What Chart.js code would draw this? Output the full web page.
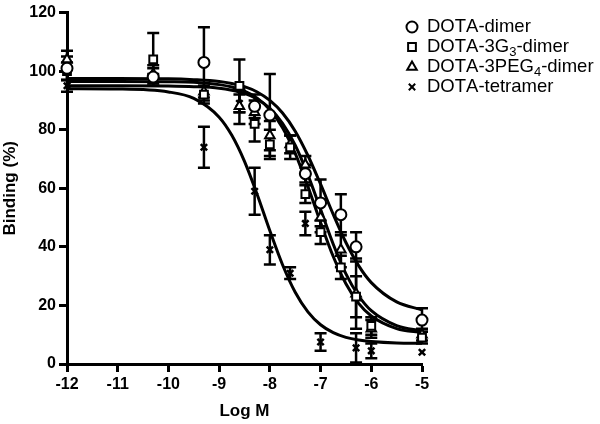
<!DOCTYPE html>
<html>
<head>
<meta charset="utf-8">
<script src="https://cdn.jsdelivr.net/npm/chart.js@4.4.0/dist/chart.umd.min.js"></script>
<style>
  html, body { margin: 0; background: #fff; }
  #wrap { width: 600px; height: 424px; }
</style>
</head>
<body>
<div id="wrap"><canvas id="bindingChart"></canvas></div>
<script>
// Competitive binding data (log molar concentration vs % binding)
const seriesNames = ['DOTA-dimer', 'DOTA-3G₃-dimer', 'DOTA-3PEG₄-dimer', 'DOTA-tetramer'];
const markerStyles = ['circle', 'rect', 'triangle', 'crossRot'];

const logConc = [-12, -10.3, -9.3, -8.6, -8.3, -8, -7.6, -7.3, -7, -6.6, -6.3, -6, -5];

const dimerMean   = [101, 98, 103, null, 88, 85, null, 65, 55, 51, 40, null, 15];
const dimerErr    = [4, 3, 12, null, 4, 14, null, 3, 8, 7, 5, null, 4];
const g3Mean      = [100, 104, 92, 95, 82, 75, 74, 58, 45, 33, 23, 13, 9];
const g3Err       = [3, 9, 3, 9, 6, 5, 4, 3, 4, 4, 7, 3, 2];
const peg4Mean    = [104, 99, 93, 88, 86, 78, 75, 68, 50, 39, 24, 12, 10];
const peg4Err     = [3, 3, 3, 6, 4, 5, 3, 3, 5, 6, 12, 3, 2];
const tetraMean   = [95, 97, 74, 89, 59, 39, 31, 48, 7.5, null, 5.5, 4.5, 4];
const tetraErr    = [2, 2, 7, 3, 8, 5, 2, 4, 3, null, 5, 2.5, 0];

// fitted curves
const curveX      = [-12, -11, -10, -9.5, -9, -8.75, -8.5, -8.25, -8, -7.75, -7.5, -7.25, -7, -6.75, -6.5, -6.25, -6, -5.5, -5];
const dimerFit    = [97.5, 97.5, 97.4, 97.1, 96.5, 95.8, 94.7, 92.9, 90.0, 85.7, 79.5, 71.2, 61.4, 51.1, 41.5, 33.6, 27.8, 21.2, 18.5];
const g3Fit       = [96.5, 96.5, 96.4, 96.2, 95.4, 94.6, 93.2, 90.8, 86.8, 80.7, 71.9, 60.6, 48.3, 36.7, 27.4, 20.7, 16.4, 12.1, 10.7];
const peg4Fit     = [95, 95, 94.9, 94.7, 94.2, 93.5, 92.4, 90.5, 87.3, 82.2, 74.7, 64.6, 52.8, 40.9, 30.8, 23.3, 18.2, 13.1, 11.3];
const tetraFit    = [94, 93.9, 92.9, 90.7, 84.3, 78.1, 69.2, 57.9, 45.5, 33.9, 24.5, 17.8, 13.4, 10.7, 9.1, 8.2, 7.7, 7.2, 7.1];

const xTicks = [-12, -11, -10, -9, -8, -7, -6, -5];
const yTicks = [0, 20, 40, 60, 80, 100, 120];

const means = [dimerMean, g3Mean, peg4Mean, tetraMean];
const errs = [dimerErr, g3Err, peg4Err, tetraErr];
const fits = [dimerFit, g3Fit, peg4Fit, tetraFit];

const toPoints = (xs, ys) => xs.map((x, i) => ys[i] == null ? null : { x: x, y: ys[i] }).filter(p => p);

const datasets = [];
means.forEach((m, i) => {
    datasets.push({
        label: seriesNames[i],
        data: toPoints(logConc, m),
        pointStyle: markerStyles[i],
        pointRadius: markerStyles[i] === 'crossRot' ? 4.5 : 5.5,
        pointBorderWidth: markerStyles[i] === 'crossRot' ? 2.5 : 2,
        pointBackgroundColor: '#fff',
        pointBorderColor: '#000',
        showLine: false,
        clip: false,
        order: 0
    });
});
fits.forEach((f, i) => {
    datasets.push({
        label: seriesNames[i] + ' fit',
        data: toPoints(curveX, f),
        showLine: true,
        borderColor: '#000',
        borderWidth: 3,
        pointRadius: 0,
        cubicInterpolationMode: 'monotone',
        order: 1
    });
});

// vertical error bars with caps, drawn under the markers
const errorBars = {
    id: 'errorBars',
    beforeDatasetsDraw(chart) {
        const { ctx, scales: { x, y } } = chart;
        ctx.save();
        ctx.strokeStyle = '#000';
        ctx.lineWidth = 2.5;
        means.forEach((m, s) => {
            logConc.forEach((c, i) => {
                if (m[i] == null || !errs[s][i]) return;
                const px = x.getPixelForValue(c);
                const top = y.getPixelForValue(m[i] + errs[s][i]);
                const bot = y.getPixelForValue(m[i] - errs[s][i]);
                ctx.beginPath();
                ctx.moveTo(px, top); ctx.lineTo(px, bot);
                ctx.moveTo(px - 6, top); ctx.lineTo(px + 6, top);
                ctx.moveTo(px - 6, bot); ctx.lineTo(px + 6, bot);
                ctx.stroke();
            });
        });
        ctx.restore();
    }
};

// legend at top right, with real subscripts
const sideLegend = {
    id: 'sideLegend',
    afterDraw(chart) {
        const ctx = chart.ctx;
        const font = '18.5px "Liberation Sans", Arial, sans-serif';
        const subFont = '13px "Liberation Sans", Arial, sans-serif';
        ctx.save();
        seriesNames.forEach((name, i) => {
            const yy = 27 + i * 20;
            const st = markerStyles[i];
            ctx.fillStyle = '#fff';
            ctx.strokeStyle = '#000';
            Chart.helpers.drawPoint(ctx, {
                pointStyle: st,
                radius: st === 'crossRot' ? 4.5 : 5.5,
                borderWidth: st === 'crossRot' ? 2.5 : 2,
                rotation: 0
            }, 412, yy);
            ctx.fillStyle = '#000';
            ctx.textBaseline = 'middle';
            let tx = 427;
            for (const ch of name) {
                const code = ch.charCodeAt(0);
                if (code >= 0x2080 && code <= 0x2089) {
                    ctx.font = subFont;
                    const d = String(code - 0x2080);
                    ctx.fillText(d, tx, yy + 5);
                    tx += ctx.measureText(d).width;
                } else {
                    ctx.font = font;
                    ctx.fillText(ch, tx, yy);
                    tx += ctx.measureText(ch).width;
                }
            }
        });
        ctx.restore();
    }
};

const tickFont = { family: '"Liberation Sans", Arial, sans-serif', size: 16, weight: 'bold' };
const titleFont = { family: '"Liberation Sans", Arial, sans-serif', size: 17, weight: 'bold' };

const bindingCtx = document.getElementById('bindingChart').getContext('2d');
const bindingChart = new Chart(bindingCtx, {
    type: 'scatter',
    data: { datasets: datasets },
    options: {
        responsive: true,
        maintainAspectRatio: false,
        animation: false,
        layout: { padding: { left: 0, right: 178, top: 0, bottom: 0 } },
        plugins: {
            legend: { display: false },
            tooltip: { enabled: false }
        },
        scales: {
            x: {
                type: 'linear',
                min: -12,
                max: -5,
                afterBuildTicks: (scale) => { scale.ticks = xTicks.map(v => ({ value: v })); },
                afterFit: (scale) => { scale.height = 60; },
                ticks: { color: '#000', font: tickFont, padding: 3 },
                grid: { drawOnChartArea: false, drawTicks: true, tickLength: 8, tickWidth: 3, tickColor: '#000' },
                border: { display: true, color: '#000', width: 3 },
                title: { display: true, text: 'Log M', color: '#000', font: titleFont, padding: { top: 4, bottom: 2 } }
            },
            y: {
                min: 0,
                max: 120,
                afterBuildTicks: (scale) => { scale.ticks = yTicks.map(v => ({ value: v })); },
                afterFit: (scale) => { scale.width = 67; },
                ticks: { color: '#000', font: tickFont, padding: 3 },
                grid: { drawOnChartArea: false, drawTicks: true, tickLength: 8, tickWidth: 3, tickColor: '#000' },
                border: { display: true, color: '#000', width: 3 },
                title: { display: true, text: 'Binding (%)', color: '#000', font: titleFont, padding: { top: 0, bottom: 2 } }
            }
        }
    },
    plugins: [errorBars, sideLegend]
});
</script>
</body>
</html>
